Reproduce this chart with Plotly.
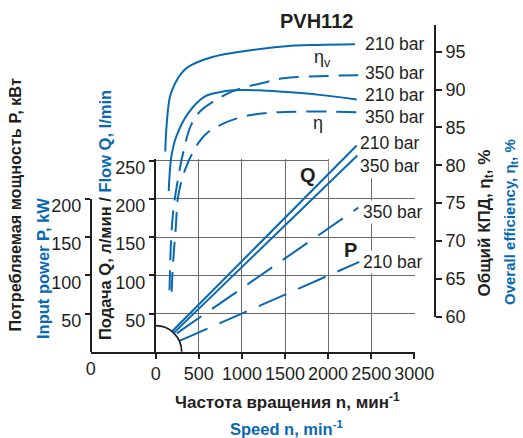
import plotly.graph_objects as go

W, H = 523, 438

# ---------------- data ----------------
speed_ticks = [0, 500, 1000, 1500, 2000, 2500, 3000]
flow_ticks = [50, 100, 150, 200, 250]
power_ticks = [50, 100, 150, 200]
eff_ticks = [60, 65, 70, 75, 80, 85, 90, 95]

# volumetric efficiency eta_v, 210 bar (solid)
speed_etav_210 = [111, 128, 166, 224, 302, 378, 572, 766, 1036, 1480, 1868, 2312]
etav_210 = [81.8, 85.5, 89.1, 90.8, 92.2, 93.0, 94.0, 94.6, 95.1, 95.7, 95.9, 96.0]
# volumetric efficiency eta_v, 350 bar (dashed)
speed_etav_350 = [160, 166, 177, 201, 247, 317, 410, 514, 668, 897, 1288, 1480, 1984, 2350]
etav_350 = [63.5, 66.1, 69.7, 73.7, 77.4, 81.6, 85.3, 87.1, 88.4, 89.8, 91.0, 91.5, 91.8, 91.9]
# overall efficiency eta, 210 bar (solid)
speed_eta_210 = [151, 160, 181, 239, 378, 572, 766, 900, 1200, 1480, 1900, 2332]
eta_210 = [76.6, 78.5, 81.1, 83.8, 86.9, 89.1, 89.7, 89.9, 89.9, 89.7, 89.3, 88.7]
# overall efficiency eta, 350 bar (dashed)
speed_eta_350 = [186, 193, 212, 235, 259, 340, 491, 610, 940, 1288, 1712, 2370]
eta_350 = [63.3, 65.4, 68.8, 72.1, 75.8, 79.4, 82.9, 84.4, 86.2, 86.9, 87.1, 87.0]

# flow Q (l/min)
speed_q_210 = [186, 2332]
flow_210 = [26.1, 269.8]
speed_q_350 = [204, 2339]
flow_350 = [24.0, 256.8]
# input power P (kW)
speed_p_350 = [244, 2350]
power_350 = [24.0, 188.5]
speed_p_210 = [282, 2362]
power_210 = [14.4, 117.5]

# ---------------- geometry / style ----------------
BLUE = "#0868b4"
DARK = "#231f20"
GRID = "#6a6a6a"
FONT = "Liberation Sans, Arial, sans-serif"

X0_PX, PX_PER_RPM = 155.7, 0.0862     # speed axis
Y0_PX, PX_PER_UNIT = 351.7, 0.764     # flow / power axes
E60_PX, PX_PER_PCT = 316.7, 7.571     # efficiency axis
EFF_TOP_PX = 25.0
POWER_AXIS_PX = 90.7
EFF_AXIS_PX = 435.0
X_MAX = 3010
Y_MAX = 252
ARC_PX = 26
TICK_SIZE = 18


def fx(px):
    return px / W


def fy(py):
    return 1 - py / H


x_dom = [fx(X0_PX), fx(X0_PX + X_MAX * PX_PER_RPM)]

fig = go.Figure()

# empty traces that register the display subplots
fig.add_trace(go.Scatter(x=[None], y=[None], xaxis="x", yaxis="y",
                         showlegend=False, hoverinfo="skip"))
fig.add_trace(go.Scatter(x=[None], y=[None], xaxis="x4", yaxis="y4",
                         showlegend=False, hoverinfo="skip"))

eff_dash = "20px,10px"
for xs, ys, dash in [(speed_etav_210, etav_210, "solid"),
                     (speed_etav_350, etav_350, eff_dash),
                     (speed_eta_210, eta_210, "solid"),
                     (speed_eta_350, eta_350, eff_dash)]:
    fig.add_trace(go.Scatter(x=xs, y=ys, xaxis="x2", yaxis="y2", mode="lines",
                             line=dict(color=BLUE, width=2, dash=dash,
                                       shape="spline", smoothing=1.0),
                             showlegend=False, hoverinfo="skip"))

p_dash = "30px,13px"
for xs, ys, dash in [(speed_q_210, flow_210, "solid"),
                     (speed_q_350, flow_350, "solid"),
                     (speed_p_350, power_350, p_dash),
                     (speed_p_210, power_210, p_dash)]:
    fig.add_trace(go.Scatter(x=xs, y=ys, xaxis="x2", yaxis="y3", mode="lines",
                             line=dict(color=BLUE, width=2, dash=dash),
                             showlegend=False, hoverinfo="skip"))

tickfont = dict(family=FONT, size=TICK_SIZE, color=DARK)
axis_common = dict(showline=True, linecolor=DARK, linewidth=1.8, zeroline=False,
                   ticks="outside", tickcolor=DARK, tickwidth=1.5, ticklen=5,
                   tickfont=tickfont, tickangle=0, automargin=False)

fig.update_layout(
    template="none",
    width=W, height=H,
    margin=dict(l=0, r=0, t=0, b=0, pad=0),
    paper_bgcolor="white", plot_bgcolor="rgba(0,0,0,0)",
    showlegend=False,
    xaxis=dict(domain=x_dom, range=[0, X_MAX], anchor="y",
               tickvals=speed_ticks, showgrid=True, gridcolor=GRID, gridwidth=1.2,
               **axis_common),
    yaxis=dict(domain=[fy(Y0_PX), fy(Y0_PX - Y_MAX * PX_PER_UNIT)], range=[0, Y_MAX],
               anchor="x", tickvals=flow_ticks, showgrid=True, gridcolor=GRID,
               gridwidth=1.2, ticklabelshift=7, **axis_common),
    xaxis2=dict(domain=x_dom, range=[0, X_MAX], anchor="y3", visible=False,
                automargin=False),
    yaxis3=dict(domain=[fy(Y0_PX), 1], range=[0, Y0_PX / PX_PER_UNIT], anchor="x2",
                visible=False, automargin=False),
    yaxis2=dict(domain=[fy(E60_PX), fy(EFF_TOP_PX)],
                range=[60, 60 + (E60_PX - EFF_TOP_PX) / PX_PER_PCT],
                anchor="free", position=fx(EFF_AXIS_PX), side="right",
                tickvals=eff_ticks, showgrid=False,
                **{**axis_common, "ticklen": 6}),
    yaxis4=dict(domain=[fy(Y0_PX), fy(Y0_PX - 200 * PX_PER_UNIT)], range=[0, 200],
                anchor="free", position=fx(POWER_AXIS_PX), side="left",
                tickvals=power_ticks, showgrid=False, ticklabelshift=7,
                **axis_common),
    xaxis4=dict(domain=[fx(POWER_AXIS_PX), fx(X0_PX)], range=[0, 1], anchor="y4",
                showline=True, linecolor=DARK, linewidth=1.8, zeroline=False,
                showgrid=False, tickvals=[0], ticktext=["0"], ticks="",
                tickfont=tickfont, tickangle=0, automargin=False),
)

# quarter arc at the origin and grid mask behind the top-right labels
r_rpm = ARC_PX / PX_PER_RPM
r_q = ARC_PX / PX_PER_UNIT
fig.add_shape(type="circle", xref="x", yref="y", x0=-r_rpm, x1=r_rpm, y0=-r_q, y1=r_q,
              line=dict(color=DARK, width=1.8), layer="above")
fig.add_shape(type="rect", xref="x", yref="y", x0=2008, x1=X_MAX, y0=227, y1=Y_MAX,
              fillcolor="white", line=dict(width=0), layer="between")

ann = []


def label(x, y, xref, yref, text, xshift=0, yshift=0, size=17.5):
    ann.append(dict(x=x, y=y, xref=xref, yref=yref, text=text, showarrow=False,
                    xanchor="left", yanchor="middle", xshift=xshift, yshift=yshift,
                    font=dict(family=FONT, size=size, color=DARK),
                    bgcolor="white", borderpad=1))


# curve-end labels
label(speed_etav_210[-1], etav_210[-1], "x2", "y2", "210 bar", xshift=8)
label(speed_etav_350[-1], etav_350[-1], "x2", "y2", "350 bar", xshift=5, yshift=2)
label(speed_eta_210[-1], eta_210[-1], "x2", "y2", "210 bar", xshift=6, yshift=4)
label(speed_eta_350[-1], eta_350[-1], "x2", "y2", "350 bar", xshift=3, yshift=-5)
label(speed_q_210[-1], flow_210[-1], "x2", "y3", "210 bar", xshift=1, yshift=3)
label(speed_q_350[-1], flow_350[-1], "x2", "y3", "350 bar", xshift=1, yshift=-10)
label(speed_p_350[-1], power_350[-1], "x2", "y3", "350 bar", xshift=3, yshift=-4)
label(speed_p_210[-1], power_210[-1], "x2", "y3", "210 bar", xshift=2, yshift=0)

# curve names
ann.append(dict(x=1770, y=231, xref="x2", yref="y3", text="<b>Q</b>", showarrow=False,
                font=dict(family=FONT, size=20, color=DARK)))
ann.append(dict(x=2256, y=133, xref="x2", yref="y3", text="<b>P</b>", showarrow=False,
                font=dict(family=FONT, size=20, color=DARK)))
ann.append(dict(x=1930, y=94.1, xref="x2", yref="y2", text="η<sub>v</sub>",
                showarrow=False, font=dict(family=FONT, size=18, color=DARK)))
ann.append(dict(x=1883, y=85.6, xref="x2", yref="y2", text="η",
                showarrow=False, font=dict(family=FONT, size=18, color=DARK)))


def ptext(px, py, text, size=17, color=DARK, angle=0):
    ann.append(dict(x=fx(px), y=fy(py), xref="paper", yref="paper", text=text,
                    showarrow=False, textangle=angle, xanchor="center", yanchor="middle",
                    font=dict(family=FONT, size=size, color=color)))


ptext(316.7, 21, "<b>PVH112</b>", size=20)
ptext(287, 401, "<b>Частота вращения n, мин<sup>-1</sup></b>", size=17)
ptext(287, 428, "<b>Speed n, min<sup>-1</sup></b>", size=16.5, color=BLUE)
ptext(14, 205.5, "<b>Потребляемая мощность P, кВт</b>", size=16.3, angle=-90)
ptext(43, 269, "<b>Input power P, kW</b>", size=16.5, color=BLUE, angle=-90)
ptext(105, 215, "<b>Подача Q, л/мин / <span style='color:%s'>Flow Q, l/min</span></b>" % BLUE,
      size=16.5, angle=-90)
ptext(485, 223.5, "<b>Общий КПД, η<sub>t</sub>, %</b>", size=17, angle=-90)
ptext(510, 222, "<b>Overall efficiency, η<sub>t</sub>, %</b>", size=15, color=BLUE, angle=-90)

fig.update_layout(annotations=ann)
fig.write_html("out.html")
